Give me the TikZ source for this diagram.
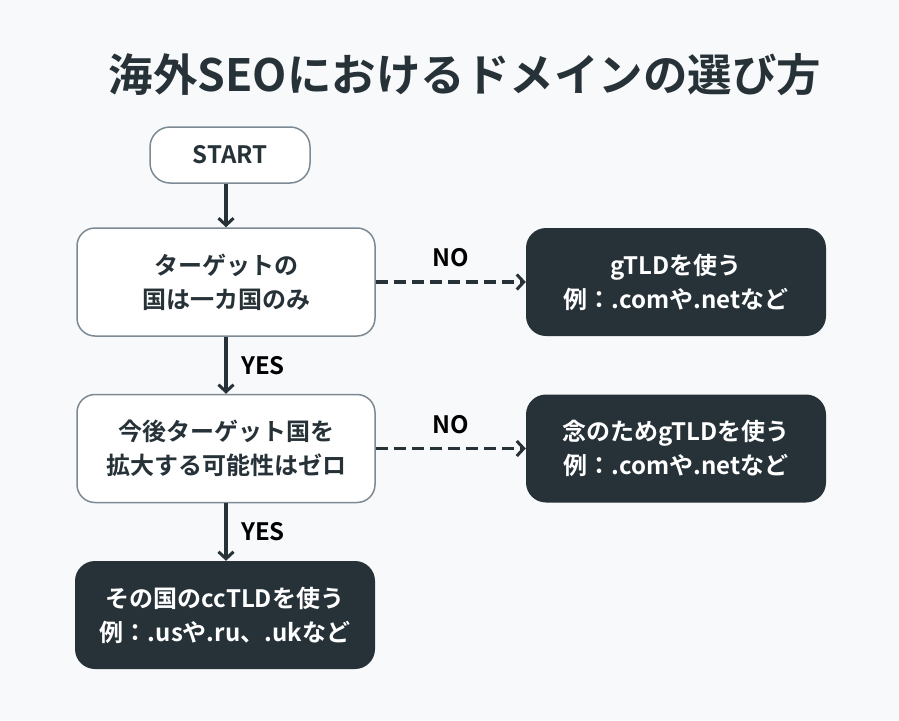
\documentclass[tikz,border=0pt]{standalone}
\usepackage{fontspec}
\setmainfont{Noto Sans CJK JP}[BoldFont={Noto Sans CJK JP Bold}]
\usetikzlibrary{arrows.meta}
\definecolor{darkbox}{HTML}{263238}
\definecolor{edgegray}{HTML}{7D8A93}
\definecolor{bgpaper}{HTML}{F8F9FA}

\begin{document}
\begin{tikzpicture}[x=1pt,y=-1pt,
    askbox/.style={draw=edgegray,line width=1.5pt,fill=white,rounded corners=18pt,
      minimum width=298pt,minimum height=108pt,align=center,text=darkbox,
      font=\bfseries\fontsize{24}{34}\selectfont},
    endbox/.style={fill=darkbox,rounded corners=20pt,
      minimum width=300pt,minimum height=108pt,align=center,text=white,
      font=\bfseries\fontsize{24}{34}\selectfont},
    flow/.style={draw=darkbox,line width=3.5pt,-{Straight Barb[length=7pt,width=15pt,line width=3pt]}},
    noflow/.style={flow,dash pattern=on 12pt off 6pt},
    tag/.style={font=\bfseries\fontsize{24}{28}\selectfont,text=black}]
  % Background
  \fill[bgpaper] (0,0) rectangle (899,720);
  \useasboundingbox (0,0) rectangle (899,720);

  % Title
  \node[text=darkbox,font=\bfseries\fontsize{44.5}{50}\selectfont] (title) at (465,75) {海外SEOにおけるドメインの選び方};

  % Boxes
  \node[askbox,minimum width=160pt,minimum height=56pt,rounded corners=20pt] (start) at (230,155) {START};
  \node[askbox] (single) at (226,282) {ターゲットの\\国は一カ国のみ};
  \node[askbox] (expand) at (226,448.5) {今後ターゲット国を\\拡大する可能性はゼロ};
  \node[endbox] (gtld) at (676,282) {gTLDを使う\\例：.comや.netなど};
  \node[endbox] (safe) at (676,448.5) {念のためgTLDを使う\\例：.comや.netなど};
  \node[endbox] (cctld) at (225,615) {その国のccTLDを使う\\例：.usや.ru、.ukなど};

  % Arrows
  \draw[flow] (start.south -| single.north) -- (single.north);
  \draw[flow] (single) -- node[tag,right=10pt] {YES} (expand);
  \draw[flow] (expand.south) -- node[tag,right=10pt] {YES} (expand.south |- cctld.north);
  \draw[noflow] (single) -- node[tag,above=10pt] {NO} (gtld);
  \draw[noflow] (expand) -- node[tag,above=10pt] {NO} (safe);
\end{tikzpicture}
\end{document}
